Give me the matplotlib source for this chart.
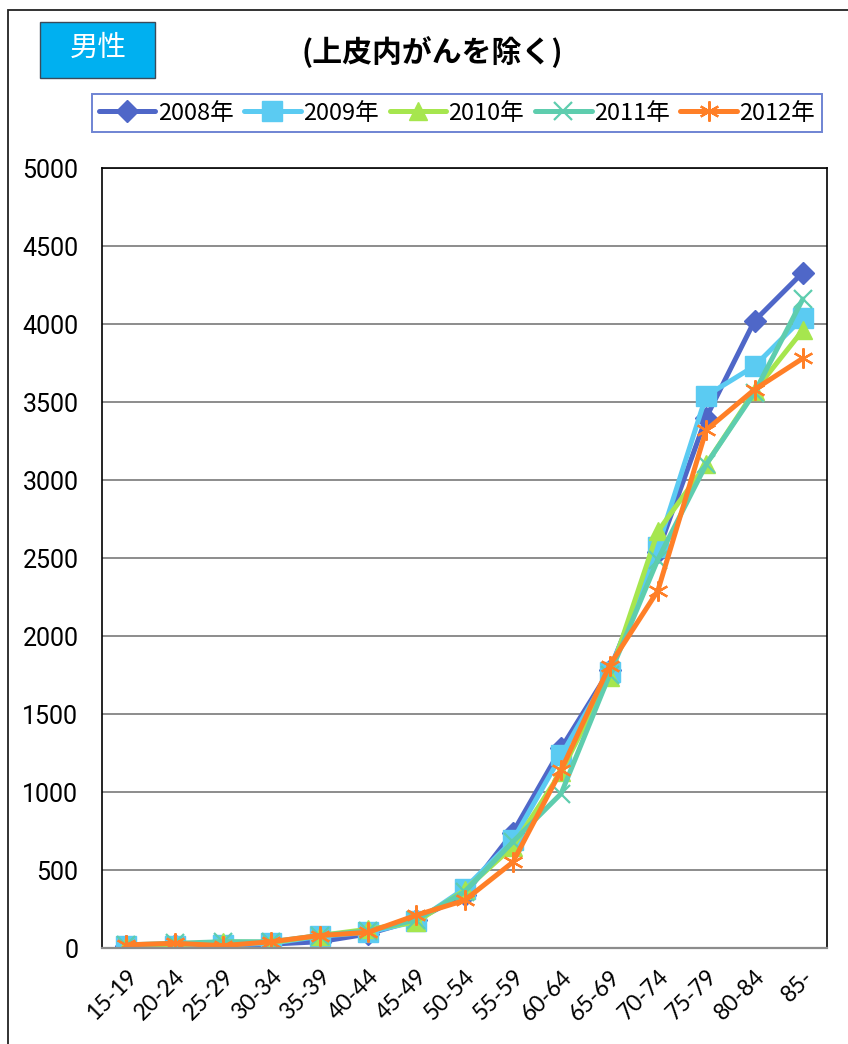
import matplotlib
matplotlib.use("Agg")
import matplotlib.pyplot as plt
from matplotlib.patches import Rectangle

# Age groups and yearly counts (male, excluding carcinoma in situ)
ages = ["15-19", "20-24", "25-29", "30-34", "35-39", "40-44", "45-49", "50-54",
        "55-59", "60-64", "65-69", "70-74", "75-79", "80-84", "85-"]
years = ["2008年", "2009年", "2010年", "2011年", "2012年"]
y2008 = [15, 20, 15, 25, 40, 90, 180, 340, 740, 1280, 1780, 2540, 3400, 4020, 4330]
y2009 = [15, 15, 20, 30, 75, 100, 170, 380, 690, 1235, 1770, 2570, 3540, 3730, 4040]
y2010 = [10, 20, 40, 35, 80, 120, 165, 370, 650, 1130, 1740, 2670, 3100, 3570, 3960]
y2011 = [20, 30, 40, 40, 80, 110, 180, 360, 680, 990, 1750, 2490, 3100, 3560, 4160]
y2012 = [20, 30, 15, 40, 80, 100, 210, 305, 550, 1140, 1810, 2290, 3320, 3580, 3780]
yticks = [0, 500, 1000, 1500, 2000, 2500, 3000, 3500, 4000, 4500, 5000]

series = [y2008, y2009, y2010, y2011, y2012]
colors = ["#4F67C8", "#5BCBF2", "#A6E64E", "#5ECDAE", "#FF7F27"]
markers = ["D", "s", "^", "x", (6, 2, 0)]
msizes = [11, 14.5, 13.5, 13.5, 14.5]

CJK = ["Noto Sans CJK JP", "DejaVu Sans"]

W, H = 848, 1044
fig = plt.figure(figsize=(W / 100, H / 100), dpi=100)

def fx(px):
    return px / W

def fy(py):
    return 1 - py / H

# outer chart frame
fig.patches.append(Rectangle((fx(8), -0.05), 1.2, fy(10) + 0.05, transform=fig.transFigure,
                             fill=False, edgecolor="#222222", linewidth=1.3))

# "男性" label box
fig.patches.append(Rectangle((fx(40), fy(78)), fx(155) - fx(40), fy(22) - fy(78),
                             transform=fig.transFigure, facecolor="#00B0F0",
                             edgecolor="#3A4A5A", linewidth=1.0))
fig.text(fx(98), fy(48), "男性", color="white", fontsize=20.5, ha="center", va="center",
         family=CJK)
fig.text(fx(432), fy(52), "(上皮内がんを除く)", color="black", fontsize=21.5, ha="center",
         va="center", fontweight="bold", family=CJK)

ax = fig.add_axes([fx(102), fy(948), fx(827) - fx(102), fy(168) - fy(948)])
x = list(range(len(ages)))
handles = []
for vals, c, m, ms, lab in zip(series, colors, markers, msizes, years):
    filled = m in ("D", "s", "^")
    ln, = ax.plot(x, vals, color=c, linewidth=3.6, marker=m, markersize=ms,
                  markerfacecolor=c, markeredgecolor=c,
                  markeredgewidth=1.0 if filled else 1.6, label=lab,
                  solid_joinstyle="round", solid_capstyle="round")
    handles.append(ln)

ax.set_xlim(-0.5, len(ages) - 0.5)
ax.set_ylim(0, 5000)
ax.set_yticks(yticks)
ax.set_yticklabels([str(v) for v in yticks], family=["Roboto", "DejaVu Sans"], fontsize=18)
ax.set_xticks(x)
ax.set_xticklabels(ages, rotation=45, ha="right", rotation_mode="anchor",
                   family=["Lato", "DejaVu Sans"], fontsize=16.5)
ax.tick_params(axis="y", length=0, pad=17)
ax.tick_params(axis="x", length=0, pad=13)
ax.yaxis.grid(True, color="#8C8C8C", linewidth=1.4)
ax.set_axisbelow(True)
for s in ("left", "top", "right"):
    ax.spines[s].set_color("black")
    ax.spines[s].set_linewidth(1.2)
ax.spines["bottom"].set_color("#8C8C8C")
ax.spines["bottom"].set_linewidth(1.6)

leg = fig.legend(handles=handles, labels=years, loc="center",
                 bbox_to_anchor=(fx(457), fy(113)), ncol=5, frameon=True,
                 fancybox=False, prop={"family": CJK, "size": 17},
                 handlelength=2.4, handletextpad=0.1, columnspacing=0.45,
                 borderpad=0.3, borderaxespad=0)
leg.get_frame().set_edgecolor("#4A66C8")
leg.get_frame().set_linewidth(1.4)

fig.savefig("out.png", dpi=100)
